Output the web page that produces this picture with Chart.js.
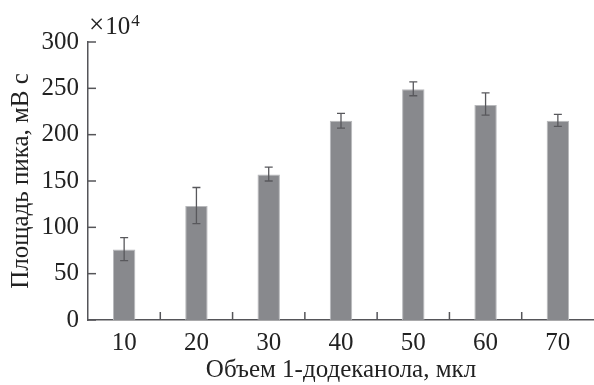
<!DOCTYPE html>
<html>
<head>
<meta charset="utf-8">
<script src="https://cdn.jsdelivr.net/npm/chart.js@4"></script>
<style>
  html, body { margin: 0; padding: 0; background: #fff; }
  #wrap { width: 594px; height: 385px; }
</style>
</head>
<body>
<div id="wrap"><canvas id="chartPeak"></canvas></div>
<script>
const labels = ['10', '20', '30', '40', '50', '60', '70'];
const values = [76, 123, 157, 215, 249, 232, 215];
const errLow = [64, 104, 150, 207, 242, 221, 209];
const errHigh = [89, 143, 165, 223, 257, 245, 222];
const yTicks = [0, 50, 100, 150, 200, 250, 300];

const axisColor = '#555559';
const font = 'Liberation Serif';

const decor = {
  id: 'decor',
  afterDatasetsDraw(chart) {
    const c = chart.ctx;
    const x = chart.scales.x, y = chart.scales.y;
    c.save();
    // error bars
    c.strokeStyle = '#58585c';
    c.lineWidth = 1.3;
    values.forEach((v, i) => {
      const px = x.getPixelForValue(i);
      const t = y.getPixelForValue(errHigh[i]);
      const b = y.getPixelForValue(errLow[i]);
      c.beginPath();
      c.moveTo(px, t); c.lineTo(px, b);
      c.moveTo(px - 4, t); c.lineTo(px + 4, t);
      c.moveTo(px - 4, b); c.lineTo(px + 4, b);
      c.stroke();
    });
    // inward ticks
    c.strokeStyle = axisColor;
    c.lineWidth = 1.5;
    const left = chart.chartArea.left, bottom = chart.chartArea.bottom;
    yTicks.forEach(t => {
      const py = y.getPixelForValue(t);
      c.beginPath(); c.moveTo(left, py); c.lineTo(left + 8, py); c.stroke();
    });
    for (let i = 1; i < labels.length; i++) {
      const px = (x.getPixelForValue(i - 1) + x.getPixelForValue(i)) / 2;
      c.beginPath(); c.moveTo(px, bottom); c.lineTo(px, bottom - 8); c.stroke();
    }
    // multiplier
    c.fillStyle = '#222';
    c.textBaseline = 'alphabetic';
    c.textAlign = 'left';
    c.font = '27px "' + font + '"';
    c.fillText('\u00d7', left + 1, 33);
    let w = c.measureText('\u00d7').width;
    c.font = '25px "' + font + '"';
    c.fillText('10', left + 2 + w, 34);
    w += c.measureText('10').width;
    c.font = '17px "' + font + '"';
    c.fillText('4', left + 3 + w, 26);
    c.restore();
  }
};

const ctx = document.getElementById('chartPeak');
const peakChart = new Chart(ctx, {
  type: 'bar',
  data: {
    labels: labels,
    datasets: [{
      data: values,
      backgroundColor: '#88898d',
      borderColor: '#b8b9bc',
      borderWidth: 1,
      categoryPercentage: 1,
      barPercentage: 0.31
    }]
  },
  options: {
    responsive: true,
    maintainAspectRatio: false,
    animation: false,
    layout: { padding: { top: 42, right: 0, left: 0, bottom: 0 } },
    plugins: { legend: { display: false }, tooltip: { enabled: false } },
    scales: {
      x: {
        grid: { display: false },
        border: { display: true, color: axisColor, width: 1.5 },
        ticks: { color: '#222', padding: 0, font: { family: font, size: 25 } },
        title: {
          display: true, text: 'Объем 1-додеканола, мкл', color: '#222',
          font: { family: font, size: 25 }, padding: { top: 0, bottom: 0 }
        },
        afterFit(axis) { axis.height = 65; }
      },
      y: {
        min: 0, max: 300,
        grid: { display: false },
        border: { display: true, color: axisColor, width: 1.5 },
        ticks: { stepSize: 50, color: '#222', padding: 1, font: { family: font, size: 25 } },
        title: {
          display: true, text: 'Площадь пика, мВ с', color: '#222',
          font: { family: font, size: 25 }, padding: { top: 6, bottom: 0 }
        },
        afterFit(axis) { axis.width = 88; }
      }
    }
  },
  plugins: [decor]
});
</script>
</body>
</html>
